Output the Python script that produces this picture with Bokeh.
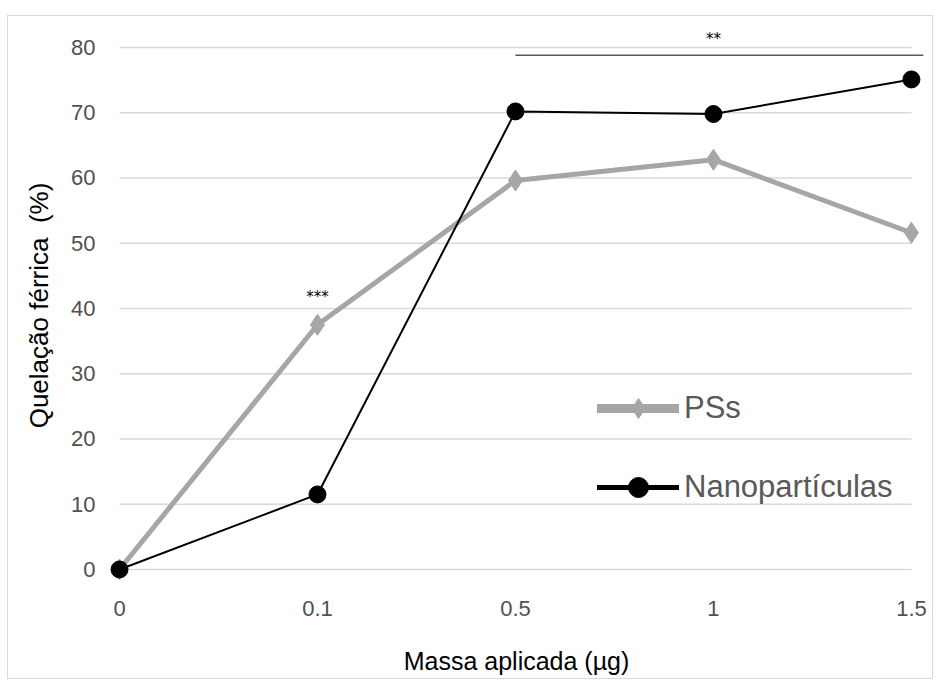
from bokeh.plotting import figure
from bokeh.models import Range1d, FixedTicker, Legend, LegendItem, ColumnDataSource
from bokeh.embed import file_html
from bokeh.resources import INLINE
from bokeh.core.properties import value

# ---- data ----
mass_labels = ["0", "0.1", "0.5", "1", "1.5"]
pss = [0, 37.5, 59.6, 62.8, 51.6]
nano = [0, 11.5, 70.2, 69.8, 75.1]
y_ticks = [0, 10, 20, 30, 40, 50, 60, 70, 80]
sig_bar_from = "0.5"
sig_bar_level = 78.8
sig_bar_text = "**"
sig_bar_text_at = "1"
sig_bar_text_level = 81.3
point_sig_text = "***"
point_sig_at = "0.1"
point_sig_level = 41.8

xs = list(range(len(mass_labels)))
idx = {m: i for i, m in enumerate(mass_labels)}

SANS = "'Liberation Sans', Arial, sans-serif"

p = figure(width=926, height=664, output_backend="svg", toolbar_location=None,
           x_range=Range1d(-0.0556, 4.066), y_range=Range1d(-1.69, 82.6),
           min_border_left=100, min_border_right=10, min_border_top=14, min_border_bottom=100)
p.styles = {"border": "1px solid #d9d9d9", "margin-top": "15px", "margin-left": "7px"}
p.outline_line_color = None
p.xgrid.visible = False
p.ygrid.visible = False

# horizontal gridlines spanning first to last category
p.segment(x0=[xs[0]] * len(y_ticks), x1=[xs[-1]] * len(y_ticks), y0=y_ticks, y1=y_ticks,
          line_color="#d9d9d9", line_width=1.5)

# axes
p.xaxis.ticker = FixedTicker(ticks=xs)
p.xaxis.major_label_overrides = {i: m for i, m in enumerate(mass_labels)}
p.yaxis.ticker = FixedTicker(ticks=y_ticks)
for ax in (p.xaxis[0], p.yaxis[0]):
    ax.axis_line_color = None
    ax.major_tick_line_color = None
    ax.minor_tick_line_color = None
    ax.major_label_text_font = SANS
    ax.major_label_text_font_size = "22px"
    ax.major_label_text_color = "#505050"
p.xaxis.major_label_standoff = 14
p.yaxis.major_label_standoff = 7
p.xaxis.axis_label = "Massa aplicada (µg)"
p.yaxis.axis_label = "Quelação férrica\u00a0 (%)"
for ax in (p.xaxis[0], p.yaxis[0]):
    ax.axis_label_text_font = SANS
    ax.axis_label_text_font_style = "normal"
    ax.axis_label_text_color = "#000000"
p.xaxis.axis_label_text_font_size = "25px"
p.yaxis.axis_label_text_font_size = "26px"
p.xaxis.axis_label_standoff = 28
p.yaxis.axis_label_standoff = 14

# series
src = ColumnDataSource(dict(x=xs, pss=pss, nano=nano))
p.line("x", "pss", source=src, line_color="#a6a6a6", line_width=5)
p.scatter("x", "pss", source=src, marker="diamond", size=21, fill_color="#a6a6a6", line_color="#a6a6a6")
p.line("x", "nano", source=src, line_color="#000000", line_width=2)
p.scatter("x", "nano", source=src, marker="circle", size=17, fill_color="#000000", line_color="#000000")

# significance annotations
p.segment(x0=[idx[sig_bar_from]], x1=[4.06], y0=[sig_bar_level], y1=[sig_bar_level],
          line_color="#595959", line_width=1.5)
p.text(x=[idx[sig_bar_text_at]], y=[sig_bar_text_level], text=[sig_bar_text],
       text_align="center", text_baseline="middle", text_font=value("DejaVu Sans"),
       text_font_size="15px", text_color="#000000")
p.text(x=[idx[point_sig_at]], y=[point_sig_level], text=[point_sig_text],
       text_align="center", text_baseline="middle", text_font=value("DejaVu Sans"),
       text_font_size="15px", text_color="#000000")

# legend-only renderers (a single undrawn NaN point)
nan = float("nan")
empty = ColumnDataSource(dict(x=[nan], y=[nan]))
lg1 = p.line("x", "y", source=empty, line_color="#a6a6a6", line_width=9, line_cap="round")
lg1m = p.scatter("x", "y", source=empty, marker="diamond", fill_color="#a6a6a6", line_color="#a6a6a6")
lg2 = p.line("x", "y", source=empty, line_color="#000000", line_width=5, line_cap="round")
lg2m = p.scatter("x", "y", source=empty, marker="circle", fill_color="#000000", line_color="#000000")
legend = Legend(items=[LegendItem(label="PSs", renderers=[lg1, lg1m]),
                       LegendItem(label="Nanopartículas", renderers=[lg2, lg2m])],
                location=(489, 68), glyph_width=82, glyph_height=50, spacing=29,
                padding=0, margin=0, label_standoff=5,
                border_line_color=None, background_fill_alpha=0,
                label_text_font=SANS, label_text_font_size="31px",
                label_text_color="#595959")
p.add_layout(legend, "center")

open("out.html", "w").write(file_html(p, INLINE))
